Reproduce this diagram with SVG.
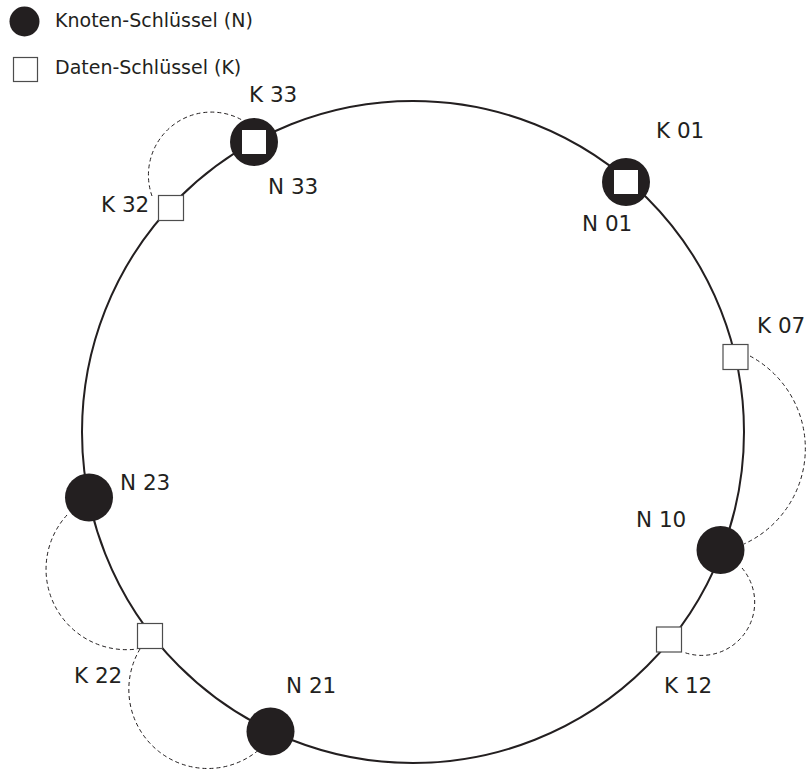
<svg xmlns="http://www.w3.org/2000/svg" width="810" height="769" viewBox="0 0 810 769">
<style>
.bg{fill:#ffffff}
.ring{fill:none;stroke:#231f20;stroke-width:2}
.link{fill:none;stroke:#231f20;stroke-width:1;stroke-dasharray:4 3}
.node{fill:#231f20}
.key{fill:#ffffff;stroke:#4d4d4d;stroke-width:1.2}
.inkey{fill:#ffffff}
.lbl{font-family:"DejaVu Sans","Liberation Sans",sans-serif;font-size:21.5px;fill:#231f20}
.leg{font-family:"DejaVu Sans","Liberation Sans",sans-serif;font-size:19px;fill:#231f20}
</style>
<rect class="bg" x="0" y="0" width="810" height="769"/>
<g id="legend">
<circle class="node" cx="24.5" cy="21.5" r="15"/>
<text class="leg" x="55" y="27">Knoten-Schlüssel (N)</text>
<rect class="key" x="13.5" y="57.5" width="24" height="24"/>
<text class="leg" x="55" y="74">Daten-Schlüssel (K)</text>
</g>
<g id="ring">
<circle class="ring" cx="413" cy="432" r="331"/>
</g>
<g id="connectors">
<path class="link" d="M152,196 A63,63 0 0 1 242,120"/>
<path class="link" d="M750,356 A105,105 0 0 1 744,544"/>
<path class="link" d="M742,568 A53,53 0 0 1 683,652"/>
<path class="link" d="M67,515 A80.5,80.5 0 0 0 137,649"/>
<path class="link" d="M140,649 A79,79 0 0 0 262,747"/>
</g>
<g id="N33">
<circle class="node" cx="254" cy="142" r="24"/>
<rect class="inkey" x="242" y="130" width="24" height="24"/>
<text class="lbl" x="249" y="102">K 33</text>
<text class="lbl" x="268" y="194">N 33</text>
</g>
<g id="N01">
<circle class="node" cx="626" cy="182" r="24"/>
<rect class="inkey" x="614" y="170" width="24" height="24"/>
<text class="lbl" x="656" y="138">K 01</text>
<text class="lbl" x="582" y="231">N 01</text>
</g>
<g id="K32">
<rect class="key" x="158.5" y="195.5" width="25" height="25"/>
<text class="lbl" x="101" y="212">K 32</text>
</g>
<g id="K07">
<rect class="key" x="723" y="344.5" width="25" height="25"/>
<text class="lbl" x="757" y="333">K 07</text>
</g>
<g id="N10">
<circle class="node" cx="720.5" cy="550" r="24"/>
<text class="lbl" x="636" y="527">N 10</text>
</g>
<g id="K12">
<rect class="key" x="656.5" y="627" width="25" height="25"/>
<text class="lbl" x="664" y="693">K 12</text>
</g>
<g id="N23">
<circle class="node" cx="89" cy="497.5" r="24"/>
<text class="lbl" x="120" y="490">N 23</text>
</g>
<g id="K22">
<rect class="key" x="137.5" y="623.5" width="25" height="25"/>
<text class="lbl" x="74" y="683">K 22</text>
</g>
<g id="N21">
<circle class="node" cx="270.5" cy="731.5" r="24"/>
<text class="lbl" x="286" y="693">N 21</text>
</g>
</svg>
